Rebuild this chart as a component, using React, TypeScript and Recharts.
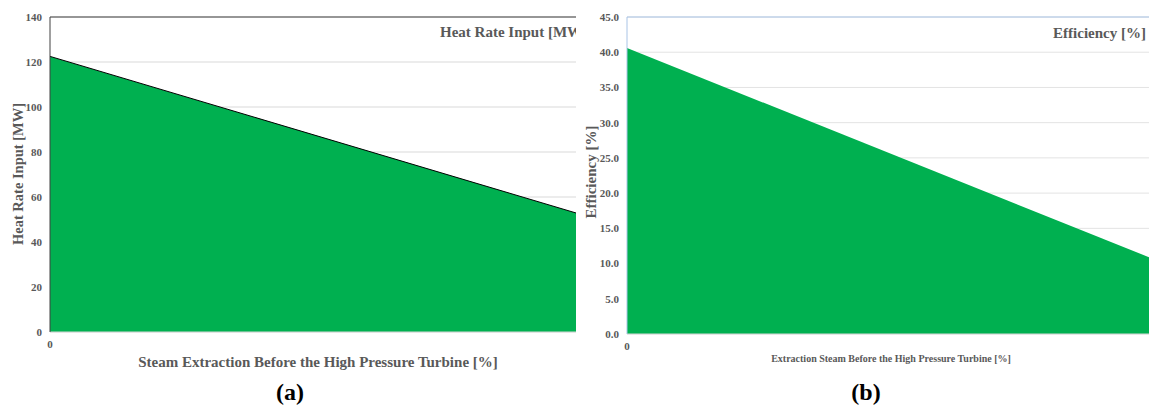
import { Area, AreaChart, CartesianGrid, ReferenceLine, XAxis, YAxis } from "recharts";

// steam extraction [%] (only 0 is labelled on the original axis)
const extraction = [0, 100];
const heatRateInput = [122.5, 52.9];
const efficiency = [40.6, 10.9];

const heatTicks = [0, 20, 40, 60, 80, 100, 120, 140];
const effTicks = [0, 5, 10, 15, 20, 25, 30, 35, 40, 45];

const SERIF = "'Liberation Serif', 'Times New Roman', serif";
const GREEN = "#00B050";
const GRAY = "#595959";

const heatData = extraction.map((x, i) => ({ x, value: heatRateInput[i] }));
const effData = extraction.map((x, i) => ({ x, value: efficiency[i] }));

const tickStyle = { fontSize: 11, fill: GRAY, fontFamily: SERIF, fontWeight: 700 };

export default function App() {
  return (
    <div style={{ position: "absolute", left: 0, top: 0, width: 1149, height: 405, background: "#fff", fontFamily: SERIF }}>
      {/* (a) heat rate input */}
      <div style={{ position: "absolute", left: 0, top: 0, width: 576, height: 350, overflow: "hidden" }}>
        <AreaChart width={576} height={350} data={heatData} margin={{ top: 17, right: 0, left: 0, bottom: 0 }}>
          <CartesianGrid vertical={false} stroke="#D9D9D9" />
          <XAxis
            type="number"
            dataKey="x"
            domain={[0, 100]}
            ticks={[0]}
            height={18}
            tick={tickStyle}
            axisLine={{ stroke: "#D9D9D9" }}
            tickLine={false}
          />
          <YAxis
            domain={[0, 140]}
            ticks={heatTicks}
            width={50}
            tick={tickStyle}
            axisLine={{ stroke: "#404040" }}
            tickLine={false}
          />
          <ReferenceLine y={140} stroke="#404040" />
          <Area
            type="linear"
            dataKey="value"
            fill={GREEN}
            fillOpacity={1}
            stroke="#000"
            strokeWidth={1}
            dot={false}
            activeDot={false}
            isAnimationActive={false}
          />
        </AreaChart>
        {/* title is cropped at the panel edge, as in the source figure */}
        <div style={{ position: "absolute", left: 440, top: 24, fontSize: 15, fontWeight: 700, color: GRAY, whiteSpace: "nowrap" }}>
          Heat Rate Input [MW]
        </div>
      </div>
      <div
        style={{
          position: "absolute",
          left: 18,
          top: 174,
          transform: "translate(-50%, -50%) rotate(-90deg)",
          fontSize: 14.5,
          fontWeight: 700,
          color: GRAY,
          whiteSpace: "nowrap",
        }}
      >
        Heat Rate Input [MW]
      </div>
      <div style={{ position: "absolute", left: 318, top: 362, transform: "translate(-50%, -50%)", fontSize: 15, fontWeight: 700, color: GRAY, whiteSpace: "nowrap" }}>
        Steam Extraction Before the High Pressure Turbine [%]
      </div>
      <div style={{ position: "absolute", left: 290, top: 392, transform: "translate(-50%, -50%)", fontSize: 24, fontWeight: 700, color: "#000" }}>
        (a)
      </div>

      {/* (b) efficiency */}
      <div style={{ position: "absolute", left: 577, top: 0, width: 572, height: 352, overflow: "hidden" }}>
        <AreaChart width={572} height={352} data={effData} margin={{ top: 17, right: 0, left: 0, bottom: 0 }}>
          <CartesianGrid vertical={false} stroke="#E3E3E3" />
          <XAxis
            type="number"
            dataKey="x"
            domain={[0, 100]}
            ticks={[0]}
            height={18}
            tick={tickStyle}
            axisLine={{ stroke: "#D9D9D9" }}
            tickLine={false}
          />
          <YAxis
            domain={[0, 45]}
            ticks={effTicks}
            width={50}
            tick={tickStyle}
            tickFormatter={(v) => v.toFixed(1)}
            axisLine={{ stroke: "#A9C4E6" }}
            tickLine={false}
          />
          <ReferenceLine y={45} stroke="#A9C4E6" />
          <Area
            type="linear"
            dataKey="value"
            fill={GREEN}
            fillOpacity={1}
            stroke="none"
            dot={false}
            activeDot={false}
            isAnimationActive={false}
          />
        </AreaChart>
        <div style={{ position: "absolute", right: 3, top: 25, fontSize: 15, fontWeight: 700, color: GRAY, whiteSpace: "nowrap" }}>
          Efficiency [%]
        </div>
      </div>
      <div
        style={{
          position: "absolute",
          left: 591,
          top: 172,
          transform: "translate(-50%, -50%) rotate(-90deg)",
          fontSize: 15,
          fontWeight: 700,
          color: GRAY,
          whiteSpace: "nowrap",
        }}
      >
        Efficiency [%]
      </div>
      <div style={{ position: "absolute", left: 891, top: 358, transform: "translate(-50%, -50%)", fontSize: 10, fontWeight: 700, color: GRAY, whiteSpace: "nowrap" }}>
        Extraction Steam Before the High Pressure Turbine [%]
      </div>
      <div style={{ position: "absolute", left: 866, top: 392, transform: "translate(-50%, -50%)", fontSize: 24, fontWeight: 700, color: "#000" }}>
        (b)
      </div>
    </div>
  );
}
